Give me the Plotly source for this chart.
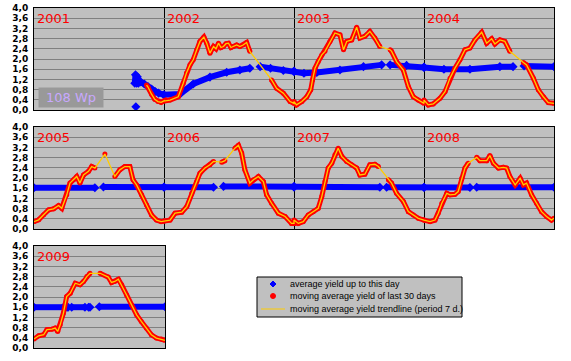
import plotly.graph_objects as go

# ---------------- data (day of year, value kWh/kWp) ----------------
# None in a value list = gap in the daily series
blue_day_2001 = [286, 287, 283, 285, 287, 290, 293, 300, 310, 320, 330, 340, 350, 365]
blue_val_2001 = [0.13, None, 1.05, 1.38, 1.15, 1.30, 1.05, 1.10, 1.02, 0.92, 0.82, 0.72, 0.66, 0.60]
red_day_2001 = [316, 320, 330, 339, 348, 357, 365]
red_val_2001 = [0.98, 0.90, 0.62, 0.42, 0.33, 0.30, 0.36]

blue_day_2002 = [0, 45, 82, 129, 176, 213, 241, 255, 270, 299, 335, 365]
blue_val_2002 = [0.59, 0.63, 1.02, 1.29, 1.48, 1.57, 1.64, None, 1.70, 1.64, 1.55, 1.50]
red_day_2002 = [0, 17, 40, 54, 63, 73, 82, 92, 101, 112, 120, 129, 139, 146, 153, 160, 167, 174, 181,
                188, 195, 204, 213, 222, 232, 241, 270, 302, 316, 335, 354, 365]
red_val_2002 = [0.35, 0.39, 0.52, 1.05, 1.45, 1.77, 1.97, 2.36, 2.69, 2.86, 2.62, 2.23, 2.49, 2.40,
                2.62, 2.45, 2.49, 2.60, 2.62, 2.45, 2.49, 2.55, 2.49, 2.55, 2.65, 2.30, None,
                1.18, 0.85, 0.66, 0.33, 0.26]

blue_day_2003 = [0, 28, 64, 129, 195, 246, 258, 270, 316, 365]
blue_val_2003 = [1.53, 1.44, 1.47, 1.57, 1.70, 1.77, None, 1.77, 1.75, 1.68]
red_day_2003 = [0, 7, 22, 36, 47, 52, 59, 68, 78, 87, 101, 115, 129, 139, 148, 162, 176, 185, 199,
                213, 227, 241, 255, 270, 274, 288, 307, 321, 335, 349, 365]
red_val_2003 = [0.33, 0.20, 0.33, 0.52, 0.79, 1.18, 1.64, 1.90, 2.16, 2.30, 2.69, 3.02, 2.95, 2.36,
                2.69, 2.75, 3.25, 2.82, 2.89, 3.08, 2.82, 2.49, None, 2.36, 2.30, 1.90, 1.57,
                0.92, 0.52, 0.39, 0.26]

blue_day_2004 = [0, 56, 129, 213, 250, 265, 281, 365]
blue_val_2004 = [1.67, 1.60, 1.60, 1.70, 1.70, None, 1.73, 1.70]
red_day_2004 = [0, 12, 26, 45, 59, 73, 87, 101, 115, 129, 143, 162, 176, 190, 199, 213, 227, 241,
                260, 279, 288, 307, 321, 335, 349, 365]
red_val_2004 = [0.39, 0.20, 0.24, 0.46, 0.72, 1.25, 1.64, 1.97, 2.36, 2.43, 2.75, 3.05, 2.62, 2.79,
                2.59, 2.75, 2.69, 2.30, None, 1.86, 1.77, 1.25, 0.79, 0.52, 0.29, 0.26]

blue_day_2005 = [0, 171, 183, 195, 365]
blue_val_2005 = [1.62, 1.62, None, 1.65, 1.65]
red_day_2005 = [0, 13, 27, 41, 55, 69, 78, 92, 101, 111, 120, 129, 139, 153, 162, 171, 185, 199,
                213, 227, 241, 255, 269, 278, 288, 302, 316, 330, 344, 357, 365]
red_val_2005 = [0.29, 0.36, 0.56, 0.75, 0.79, 0.92, 0.81, 1.34, 1.80, 1.93, 2.06, 1.80, 2.12, 2.26,
                2.45, 2.39, None, 2.94, None, 2.06, 2.32, 2.45, 2.45, 1.93, 1.73, 1.34, 0.94,
                0.55, 0.35, 0.29, 0.31]

blue_day_2006 = [0, 139, 153, 167, 365]
blue_val_2006 = [1.64, 1.64, None, 1.67, 1.67]
red_day_2006 = [0, 17, 31, 50, 64, 78, 92, 101, 115, 129, 139, 150, 162, 171, 185, 199, 209, 218,
                227, 241, 251, 265, 279, 288, 302, 321, 340, 358, 365]
red_val_2006 = [0.31, 0.35, 0.62, 0.66, 0.88, 1.40, 1.86, 2.19, 2.39, 2.52, 2.65, None, 2.62, 2.68,
                None, 3.17, 3.28, 2.98, 2.32, 1.80, 1.93, 2.06, 1.86, 1.34, 1.01, 0.62, 0.49,
                0.22, 0.22]

blue_day_2007 = [0, 241, 250, 260, 365]
blue_val_2007 = [1.64, 1.64, None, 1.64, 1.64]
red_day_2007 = [0, 12, 26, 40, 54, 68, 78, 87, 96, 106, 115, 124, 134, 148, 162, 176, 185, 199,
                213, 227, 237, 251, 265, 274, 288, 307, 321, 335, 349, 365]
red_val_2007 = [0.35, 0.22, 0.29, 0.55, 0.68, 0.81, 1.27, 1.86, 2.39, 2.58, 2.91, 3.17, 2.85, 2.65,
                2.52, 2.39, 2.12, 2.15, 2.52, 2.54, 2.45, None, 1.93, 1.80, 1.40, 1.08, 0.68,
                0.55, 0.42, 0.35]

blue_day_2008 = [0, 129, 138, 148, 365]
blue_val_2008 = [1.63, 1.63, None, 1.64, 1.64]
red_day_2008 = [0, 17, 31, 40, 50, 64, 73, 87, 96, 106, 115, 124, 136, 148, 157, 176, 185, 195,
                209, 223, 232, 241, 256, 270, 279, 288, 302, 316, 330, 344, 358, 365]
red_val_2008 = [0.35, 0.29, 0.35, 0.62, 1.01, 1.40, 1.34, 1.36, 1.47, 1.99, 2.39, 2.58, None, 2.81,
                2.68, 2.68, 2.88, 2.58, 2.39, 2.42, 2.39, 2.06, 1.73, 1.99, 1.73, 1.80, 1.34,
                1.01, 0.68, 0.49, 0.35, 0.42]

blue_day_2009 = [0, 82, 87, 92, 95, 100, 105, 142, 147, 152, 156, 170, 182, 365]
blue_val_2009 = [1.60, 1.60, None, 1.60, 1.60, None, 1.60, 1.60, None, 1.60, 1.60, None, 1.62, 1.62]
red_day_2009 = [0, 13, 27, 36, 50, 59, 66, 73, 82, 91, 101, 115, 128, 138, 147, 156, 170, 184, 207,
                216, 225, 235, 244, 258, 272, 286, 299, 313, 327, 341, 355, 365]
red_val_2009 = [0.35, 0.48, 0.52, 0.72, 0.74, 0.78, 0.65, 0.91, 1.37, 2.02, 2.15, 2.54, 2.48, 2.61,
                2.80, 2.93, None, 2.93, 2.78, 2.57, 2.61, 2.70, 2.48, 2.08, 1.69, 1.30, 1.04,
                0.78, 0.52, 0.39, 0.35, 0.30]

rows = [[2001, 2002, 2003, 2004], [2005, 2006, 2007, 2008], [2009]]
plant_label = "108 Wp"
legend_names = ["average yield up to this day",
                "moving average yield of last 30 days",
                "moving average yield trendline (period 7 d.)"]

blue_data = {2001: (blue_day_2001, blue_val_2001), 2002: (blue_day_2002, blue_val_2002),
             2003: (blue_day_2003, blue_val_2003), 2004: (blue_day_2004, blue_val_2004),
             2005: (blue_day_2005, blue_val_2005), 2006: (blue_day_2006, blue_val_2006),
             2007: (blue_day_2007, blue_val_2007), 2008: (blue_day_2008, blue_val_2008),
             2009: (blue_day_2009, blue_val_2009)}
red_data = {2001: (red_day_2001, red_val_2001), 2002: (red_day_2002, red_val_2002),
            2003: (red_day_2003, red_val_2003), 2004: (red_day_2004, red_val_2004),
            2005: (red_day_2005, red_val_2005), 2006: (red_day_2006, red_val_2006),
            2007: (red_day_2007, red_val_2007), 2008: (red_day_2008, red_val_2008),
            2009: (red_day_2009, red_val_2009)}

BLUE = "#0000ff"
RED = "#ff0000"
YELLOW = "#ffcc00"
PANEL_BG = "#c0c0c0"
GRID = "#808080"

W, H = 571, 361
ML, MR, MT, MB = 34, 17, 8, 13
PW, PH = W - ML - MR, H - MT - MB


def px_x(px):
    return (px - ML) / PW


def px_y(py):
    return (H - MB - py) / PH


def row_series(years, source):
    xs, ys = [], []
    for yr in years:
        days, vals = source[yr]
        for d, v in zip(days, vals):
            xs.append(yr + d / 365.0)
            ys.append(v)
    return xs, ys


fig = go.Figure()
axis_suffix = ["", "2", "3"]
for i, years in enumerate(rows):
    xa = "x" + axis_suffix[i]
    ya = "y" + axis_suffix[i]
    bx, by = row_series(years, blue_data)
    rx, ry = row_series(years, red_data)
    fig.add_trace(go.Scatter(x=bx, y=by, xaxis=xa, yaxis=ya, mode="lines+markers",
                             line=dict(color=BLUE, width=6), connectgaps=False,
                             marker=dict(color=BLUE, size=7, symbol="diamond"),
                             showlegend=False, hoverinfo="skip"))
    fig.add_trace(go.Scatter(x=rx, y=ry, xaxis=xa, yaxis=ya, mode="lines+markers",
                             line=dict(color=RED, width=5), connectgaps=False,
                             marker=dict(color=RED, size=5),
                             showlegend=False, hoverinfo="skip"))
    fig.add_trace(go.Scatter(x=rx, y=ry, xaxis=xa, yaxis=ya, mode="lines",
                             line=dict(color=YELLOW, width=1.3), connectgaps=True,
                             showlegend=False, hoverinfo="skip"))

tick_font = dict(family="DejaVu Sans", size=9, color="black", weight="bold")
y_domains = [[px_y(110), px_y(8)], [px_y(229), px_y(127)], [px_y(348), px_y(246)]]
x_domains = [[0.0, 1.0], [0.0, 1.0], [0.0, px_x(165)]]
layout_axes = {}
for i, years in enumerate(rows):
    s = axis_suffix[i]
    layout_axes["xaxis" + s] = dict(
        domain=x_domains[i], range=[years[0], years[-1] + 1], anchor="y" + s,
        tickvals=list(range(years[0], years[-1] + 2)), showticklabels=False,
        showgrid=True, gridcolor="black", gridwidth=1, zeroline=False,
        showline=True, mirror=True, linecolor="black", linewidth=1, ticks="",
        automargin=False)
    layout_axes["yaxis" + s] = dict(
        domain=y_domains[i], range=[0, 4], dtick=0.4, tick0=0, tickformat=".1f",
        anchor="x" + s, showgrid=True, gridcolor=GRID, gridwidth=1, zeroline=False,
        showline=True, mirror=True, linecolor="black", linewidth=1, ticks="",
        tickfont=tick_font, ticklabelstandoff=3, automargin=False)

annotations = []
for i, years in enumerate(rows):
    s = axis_suffix[i]
    for yr in years:
        annotations.append(dict(
            text=str(yr), xref="x" + s, yref="y" + s + " domain", x=yr, y=1.0,
            xanchor="left", yanchor="top", xshift=1, yshift=-1, showarrow=False,
            font=dict(family="DejaVu Sans", size=13, color=RED)))
annotations.append(dict(
    text=plant_label, xref="x", yref="y", x=2001, y=0, xanchor="left", yanchor="bottom",
    xshift=4, yshift=2, showarrow=False, bgcolor="#999999", width=62, height=17,
    font=dict(family="DejaVu Sans", size=13, color="#c8a8ff")))

# hand-drawn legend box (Plotly's own legend rows are too tall here)
legend_rows_py = [284, 296, 309]
for name, py in zip(legend_names, legend_rows_py):
    annotations.append(dict(
        text=name, xref="paper", yref="paper", x=px_x(288), y=px_y(py),
        xanchor="left", yanchor="middle", showarrow=False,
        font=dict(family="Liberation Sans", size=9, color="black")))

shapes = [
    dict(type="rect", xref="paper", yref="paper", x0=px_x(257), x1=px_x(462),
         y0=px_y(317), y1=px_y(277), fillcolor=PANEL_BG, line=dict(color="black", width=1),
         layer="below"),
    dict(type="path", xref="paper", yref="paper", xsizemode="pixel", ysizemode="pixel",
         xanchor=px_x(273), yanchor=px_y(284), path="M 0 3 L 3 0 L 0 -3 L -3 0 Z",
         fillcolor=BLUE, line=dict(color=BLUE, width=1)),
    dict(type="circle", xref="paper", yref="paper", xsizemode="pixel", ysizemode="pixel",
         xanchor=px_x(273), yanchor=px_y(296), x0=-2.5, x1=2.5, y0=-2.5, y1=2.5,
         fillcolor=RED, line=dict(color=RED, width=1)),
    dict(type="line", xref="paper", yref="paper", x0=px_x(261), x1=px_x(285),
         y0=px_y(309), y1=px_y(309), line=dict(color=YELLOW, width=1)),
]

fig.update_layout(
    width=W, height=H,
    margin=dict(l=ML, r=MR, t=MT, b=MB),
    paper_bgcolor="white", plot_bgcolor=PANEL_BG,
    separators=",.",
    showlegend=False,
    annotations=annotations,
    shapes=shapes,
    **layout_axes,
)

fig.write_html("out.html", config={"displayModeBar": False},
               post_script="document.body.style.margin='0';document.body.style.overflow='hidden';")
